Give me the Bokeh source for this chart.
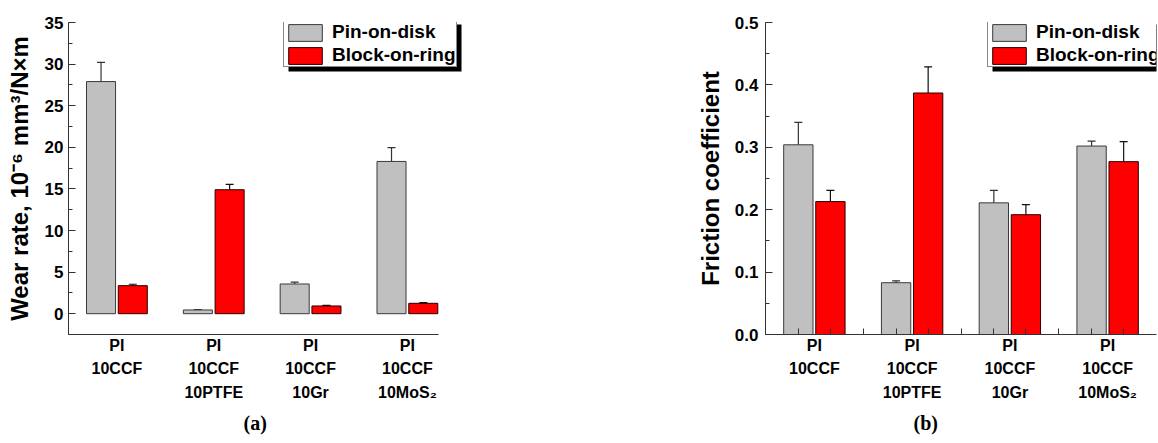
from bokeh.plotting import figure
from bokeh.models import (ColumnDataSource, Whisker, TeeHead, FixedTicker, SingleIntervalTicker,
                          Legend, LegendItem, Range1d, Title, PrintfTickFormatter, BoxAnnotation)
from bokeh.layouts import row
from bokeh.embed import file_html
from bokeh.resources import INLINE

# ---------------- data ----------------
groups = [1, 2, 3, 4]
group_labels = ["PI\n10CCF", "PI\n10CCF\n10PTFE", "PI\n10CCF\n10Gr", "PI\n10CCF\n10MoS\u2082"]
series_names = ["Pin-on-disk", "Block-on-ring"]

wear_pin = [27.9, 0.45, 3.57, 18.3]
wear_pin_err = [2.3, 0.05, 0.22, 1.65]
wear_block = [3.37, 14.9, 0.93, 1.25]
wear_block_err = [0.17, 0.65, 0.06, 0.08]

fric_pin = [0.304, 0.083, 0.211, 0.302]
fric_pin_err = [0.036, 0.003, 0.020, 0.008]
fric_block = [0.213, 0.387, 0.192, 0.277]
fric_block_err = [0.018, 0.042, 0.016, 0.032]

FONT = "Liberation Sans"
GRAY = "#C0C0C0"
RED = "#FF0000"
OFF = 0.164
BW = 0.3
LEG_W, LEG_H = 173, 47
SH_X, SH_Y = 5, 4


def make_panel(pin, pin_err, block, block_err, yr, ytick, ylabel, caption,
               width, x_end, min_left, min_right, frame_bottom_border, xbounds, legend_xy,
               cap_offset, xticks_visible, label_std, axis_label_std):
    p = figure(width=width, height=443, output_backend="svg", toolbar_location=None,
               x_range=Range1d(0.5, x_end), y_range=Range1d(*yr),
               min_border_left=min_left, min_border_right=min_right,
               min_border_top=22, min_border_bottom=frame_bottom_border)
    p.outline_line_color = None
    p.xgrid.visible = False
    p.ygrid.visible = False

    xs_pin = [g - OFF for g in groups]
    xs_block = [g + OFF for g in groups]
    s_pin = ColumnDataSource(dict(x=xs_pin, top=pin,
                                  upper=[v + e for v, e in zip(pin, pin_err)],
                                  lower=[v - e for v, e in zip(pin, pin_err)]))
    s_block = ColumnDataSource(dict(x=xs_block, top=block,
                                    upper=[v + e for v, e in zip(block, block_err)],
                                    lower=[v - e for v, e in zip(block, block_err)]))
    r1 = p.vbar(x="x", top="top", bottom=0, width=BW, source=s_pin,
                fill_color=GRAY, line_color="#3a3a3a", line_width=1)
    r2 = p.vbar(x="x", top="top", bottom=0, width=BW, source=s_block,
                fill_color=RED, line_color="#2a0000", line_width=1)

    for src, col in ((s_pin, "#333333"), (s_block, "#111111")):
        w = Whisker(base="x", upper="upper", lower="lower", source=src, dimension="height",
                    line_color=col, line_width=1.2,
                    upper_head=TeeHead(size=8, line_color=col, line_width=1.2),
                    lower_head=TeeHead(size=8, line_color=col, line_width=1.2))
        p.add_layout(w)

    ya = p.yaxis[0]
    ya.ticker = SingleIntervalTicker(interval=ytick, num_minor_ticks=2)
    ya.axis_label = ylabel
    ya.axis_label_text_font = FONT
    ya.axis_label_text_font_style = "bold"
    ya.axis_label_text_font_size = "24px"
    ya.axis_label_text_color = "black"
    ya.axis_label_standoff = axis_label_std
    ya.major_label_text_font = FONT
    ya.major_label_text_font_style = "bold"
    ya.major_label_text_font_size = "17px"
    ya.major_label_text_color = "black"
    ya.major_label_standoff = label_std
    ya.major_tick_in = 7
    ya.major_tick_out = 0
    ya.minor_tick_in = 4
    ya.minor_tick_out = 0
    ya.axis_line_color = "#333333"
    ya.major_tick_line_color = "#333333"
    ya.minor_tick_line_color = "#333333"

    xa = p.xaxis[0]
    minor = []
    if xticks_visible:
        for g in groups:
            minor += [g - OFF, g + OFF]
        minor += [1.5, 2.5, 3.5]
    xa.ticker = FixedTicker(ticks=groups, minor_ticks=sorted(minor))
    xa.major_label_overrides = {g: lab for g, lab in zip(groups, group_labels)}
    xa.major_label_text_font = FONT
    xa.major_label_text_font_style = "bold"
    xa.major_label_text_font_size = "16px"
    xa.major_label_text_color = "black"
    xa.major_label_text_line_height = 1.4
    xa.major_label_standoff = -4
    xa.major_tick_line_color = None
    xa.minor_tick_in = 6
    xa.minor_tick_out = 0
    xa.minor_tick_line_color = "#333333"
    xa.axis_line_color = "#333333"
    xa.bounds = xbounds

    # legend with drop shadow
    lx, ly = legend_xy
    p.add_layout(BoxAnnotation(left=lx + SH_X, right=lx + LEG_W + SH_X,
                               bottom=ly - SH_Y, top=ly + LEG_H - SH_Y,
                               left_units="screen", right_units="screen",
                               top_units="screen", bottom_units="screen",
                               fill_color="black", fill_alpha=1.0, line_color="black",
                               line_width=0))
    items = [LegendItem(label=series_names[0], renderers=[r1]),
             LegendItem(label=series_names[1], renderers=[r2])]
    leg = Legend(items=items, location=(lx, ly), padding=0, margin=0, spacing=1,
                 glyph_width=42, glyph_height=21, label_height=21, label_standoff=6,
                 label_text_font=FONT, label_text_font_style="bold",
                 label_text_font_size="19px", label_text_color="black",
                 background_fill_color="white", background_fill_alpha=1.0,
                 border_line_color="#111111", border_line_width=1.2)
    p.add_layout(leg, "center")

    t = Title(text=caption, align="left", offset=cap_offset, text_font="Liberation Serif",
              text_font_size="20px", text_font_style="bold", text_color="black")
    p.add_layout(t, "below")
    return p


pa = make_panel(wear_pin, wear_pin_err, wear_block, wear_block_err, (-2.5, 35), 5,
                "Wear rate, 10\u207b\u2076 mm\u00b3/N\u00d7m", "(a)",
                579, 4.6, 68, 114, 109, (0.5, 4.32), (215, 267), 175, False, 5, 9)
pb = make_panel(fric_pin, fric_pin_err, fric_block, fric_block_err, (0, 0.5), 0.1,
                "Friction coefficient", "(b)",
                579, 4.5, 186, 2, 107, (0.5, 4.5), (222, 267), 148, True, 7, 8)
pb.yaxis[0].formatter = PrintfTickFormatter(format="%.1f")

layout = row(pa, pb)
open("out.html", "w").write(file_html(layout, INLINE))
